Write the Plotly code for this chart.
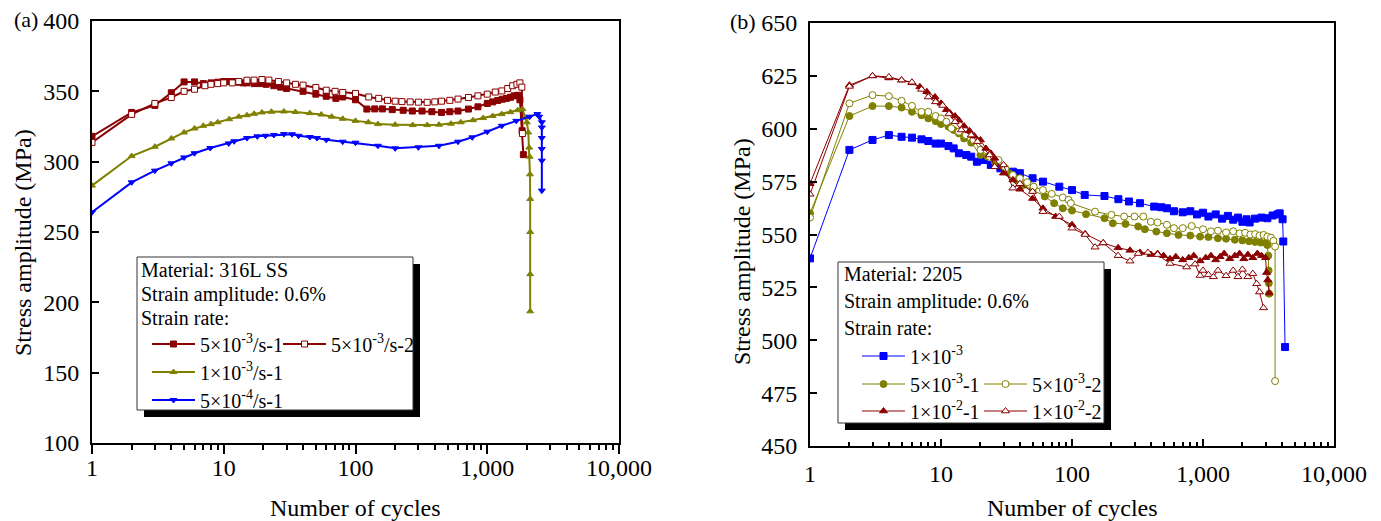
import plotly.graph_objects as go

W, H = 1381, 521

# ---------------- Panel (a): 316L SS ----------------
a1_N = [1, 2, 3, 4, 5, 6, 7, 8, 9, 10, 11, 12, 13, 14, 15, 17, 19, 21, 24, 27, 30, 40, 50, 60, 71, 80, 100,
        122, 140, 160, 190, 230, 270, 320, 380, 450, 520, 600, 720, 850, 1000, 1100, 1200, 1300, 1400, 1500,
        1600, 1700, 1770, 1840, 1880]
a1_S = [318, 335, 340, 349, 356.7, 356.7, 355.5, 356, 356.5, 357, 357, 357, 356.5, 356, 356, 355.5, 355.5, 355,
        354, 353, 352, 350, 348, 346.5, 345, 346, 344, 337.4, 337.5, 337.5, 337, 336.5, 336, 336, 335.5, 335,
        335.5, 336, 337.4, 339, 341.4, 342.5, 343.5, 344.4, 345, 345.8, 346.8, 347.2, 344, 322, 305]

a2_N = [1, 2, 3, 4, 5, 6, 7.2, 8, 9, 10, 11.6, 13, 15, 17, 19.5, 22, 26, 30, 35, 40, 50, 60, 70, 80, 100, 126,
        150, 175, 200, 225, 260, 300, 350, 400, 450, 520, 600, 720, 850, 1000, 1150, 1290, 1430, 1560, 1680,
        1770, 1830, 1850]
a2_S = [313.7, 333.6, 341.4, 345.6, 350, 351.5, 354, 355, 355.5, 356, 356, 357, 357.9, 358, 358.4, 358, 357,
        356, 355, 354.4, 352.7, 350.8, 350, 349.2, 348.5, 346, 345, 343.6, 343, 342.7, 342.5, 342.3, 342.2,
        342.5, 343, 343.6, 344.5, 345.6, 346.8, 348, 349.5, 350.3, 352, 354, 355, 356, 353, 320]

a3_N = [1, 2, 3, 4, 5, 6, 7, 8, 9, 11, 13, 15, 17, 19.5, 23, 28.6, 35, 45, 55, 66, 80, 100, 125, 148, 200, 272,
        350, 430, 530, 630, 780, 930, 1100, 1290, 1500, 1700, 1850, 1940, 2000, 2050, 2080, 2100, 2110, 2118,
        2118, 2118, 2118]
a3_S = [283, 304, 310.6, 316.5, 320.8, 323.6, 325.5, 326.7, 328, 330.2, 332, 333, 334, 335, 335.5, 335.7, 335.3,
        334.5, 333.5, 332, 330.5, 329, 328, 326.7, 326.3, 326, 326, 326.3, 327, 328, 329.5, 331, 332.5, 333.8,
        335.2, 336.6, 337.4, 331.4, 328, 320.8, 310, 303.5, 291, 273.5, 250, 220, 193.6]

a4_N = [1, 2, 3, 4, 5, 6, 7.9, 10.9, 12, 15, 18, 20.7, 24, 28.6, 33, 37, 45, 51, 60, 80, 100, 148, 200, 300,
        430, 600, 770, 1000, 1290, 1660, 2100, 2400, 2480, 2596, 2596, 2596, 2596, 2596, 2596]
a4_S = [264, 285.3, 293.6, 298.8, 303, 306, 309.7, 313, 314.5, 316.8, 318, 318.4, 319, 319.6, 319.5, 318.4,
        317.5, 316.8, 315.5, 314.2, 313.5, 311.3, 309.5, 310.2, 311.3, 314.2, 317.3, 321.3, 325.5, 329, 332,
        333.8, 332, 328, 324.3, 316.8, 309, 300.7, 279.4]

# ---------------- Panel (b): 2205 ----------------
b1_N = [1, 2, 3, 4, 5, 6, 7.1, 8, 9.1, 10, 11.4, 12.5, 13.7, 15.6, 17, 18.8, 21.3, 24, 28.4, 35.4, 40, 50, 60,
        80, 100, 125, 177, 226, 272, 330, 424, 480, 530, 600, 700, 800, 900, 1000, 1100, 1250, 1400, 1550,
        1700, 1850, 2000, 2150, 2270, 2500, 2800, 3100, 3400, 3700, 3850, 4050, 4100, 4230]
b1_S = [538.7, 590, 594.7, 597, 596.2, 595.8, 595, 594.2, 593, 593, 591.8, 590.7, 588.4, 587.6, 586.8, 584.4,
        585.2, 582.9, 581.3, 579.7, 579, 576.6, 575, 572.6, 571, 568.7, 568.2, 566.7, 565.6, 564.8, 563.2,
        562.9, 562.4, 561, 560.5, 561, 559.5, 560.3, 558.5, 559.5, 557.5, 558.8, 557, 558, 556, 557.2, 555.7,
        557.5, 558, 557.7, 559, 559.5, 560, 557.2, 546.7, 496.8]

b2_N = [1, 2, 3, 4, 5, 6, 7.1, 8, 9.1, 10, 11.4, 12.5, 13.7, 15, 17, 20, 22.7, 25.7, 30, 33, 37.6, 42.6, 50, 62,
        73, 85, 100, 128, 177, 205, 256, 320, 360, 440, 530, 650, 800, 950, 1100, 1300, 1500, 1750, 2000, 2250,
        2500, 2750, 3000, 3100, 3150, 3170, 3180, 3200]
b2_S = [560, 606, 610.7, 610.7, 610, 608, 606.4, 604.9, 603.6, 602.2, 601, 599.4, 597.8, 595.4, 593.4, 587.6,
        586.8, 584.4, 582, 579, 575.8, 573.4, 571, 568, 564.8, 562.4, 561.3, 559.6, 557.7, 555.3, 555, 553.8,
        552.5, 551.4, 550.6, 549.8, 549.5, 549, 548.8, 548.2, 548, 547.5, 547.2, 546.8, 546.5, 546.2, 546, 545,
        540, 533, 527, 522]

b3_N = [1, 2, 3, 4, 5, 6, 7.1, 8, 9.1, 10, 11, 12, 13.7, 15.5, 17.7, 20, 23.5, 27.5, 31, 35.4, 40, 45.5, 51, 60,
        70, 85, 94, 98, 150, 200, 250, 300, 350, 400, 450, 530, 600, 700, 820, 1000, 1150, 1300, 1500, 1700,
        1900, 2100, 2300, 2500, 2700, 2900, 3100, 3300, 3450, 3550, 3550]
b3_S = [558, 612, 615.9, 615.4, 613.2, 610.8, 608, 608, 606, 604.9, 603.3, 600.2, 598.6, 597, 594.7, 590, 586.8,
        585.2, 581.3, 578.1, 576.6, 574.7, 572.6, 571, 569.2, 567.5, 566.4, 564.8, 560.8, 559.3, 558.5, 558.5,
        558.5, 556, 555.7, 554.6, 553, 553, 554, 552.5, 551.5, 551.8, 551, 551.5, 550.5, 550.8, 550, 550.2,
        549.5, 549.8, 549, 548.5, 547, 544.3, 480.7]

b4_N = [1, 2, 3, 4, 5, 6, 6.9, 7.8, 9, 10, 11, 11.7, 12.8, 13.7, 15, 16.5, 18, 20, 22, 24, 25.7, 30, 35.4, 40,
        50, 60, 75, 100, 126, 173, 225, 277, 330, 400, 450, 500, 560, 620, 700, 780, 850, 950, 1050, 1150, 1250,
        1350, 1450, 1600, 1750, 1900, 2050, 2200, 2400, 2600, 2800, 3000, 3060, 3120, 3200]
b4_S = [574, 620.6, 625, 624, 623, 621.7, 619.8, 617.5, 615, 612, 609, 607.5, 606, 604, 601.3, 599, 596.5, 594.7,
        590.7, 588.4, 586, 579, 575.8, 571.4, 567, 562.4, 558.5, 554.6, 550.3, 546, 543.7, 542.5, 541.5, 540.5,
        541, 540, 538.5, 539.5, 538, 539, 540, 537.5, 539, 540, 538, 539.5, 541, 538.5, 540, 541, 538.5, 540.5,
        539, 541, 540, 539, 532, 528.5, 522.3]

b5_N = [1, 2, 3, 4, 5, 6, 7.1, 8, 9.1, 10.3, 11.5, 12.8, 14.3, 17, 19, 23.5, 25.7, 30, 35.4, 40, 50, 60, 80, 100,
        126, 150, 173, 225, 277, 320, 380, 450, 560, 750, 870, 950, 1000, 1100, 1200, 1300, 1500, 1700, 1850,
        2000, 2200, 2400, 2570, 2700, 2900]
b5_S = [569, 620, 625, 624.5, 623, 622, 618.6, 615, 612.7, 611, 607, 603.3, 599.4, 597, 593.9, 587.6, 582, 582.9,
        571.9, 574, 570.3, 560.8, 558.5, 553, 550, 544, 546, 540, 537.4, 541, 541.5, 540.5, 536.3, 534.6, 536,
        530.6, 533, 531, 530, 533, 530.5, 533, 530, 533.5, 530, 531.5, 526.7, 522.8, 515.3]

x_tickvals = [1, 10, 100, 1000, 10000]
x_ticktext = ["1", "10", "100", "1,000", "10,000"]
a_yticks = [100, 150, 200, 250, 300, 350, 400]
b_yticks = [450, 475, 500, 525, 550, 575, 600, 625, 650]

a_names = ["5×10<sup>-3</sup>/s-1", "5×10<sup>-3</sup>/s-2", "1×10<sup>-3</sup>/s-1", "5×10<sup>-4</sup>/s-1"]
b_names = ["1×10<sup>-3</sup>", "5×10<sup>-3</sup>-1", "5×10<sup>-3</sup>-2", "1×10<sup>-2</sup>-1",
           "1×10<sup>-2</sup>-2"]

WINE = "#8B0000"
OLIVE = "#808000"
BLUE = "#0000FF"
FONT = "Liberation Serif"

fig = go.Figure()


def px_x(p):
    return p / W


def px_y(p):
    return 1 - p / H


a_series = [
    (a1_N, a1_S, WINE, "square", WINE, "legend10"),
    (a2_N, a2_S, WINE, "square", "white", "legend2"),
    (a3_N, a3_S, OLIVE, "triangle-up", OLIVE, "legend3"),
    (a4_N, a4_S, BLUE, "triangle-down", BLUE, "legend4"),
]
for (xs, ys, col, sym, fill, lg), nm in zip(a_series, a_names):
    fig.add_trace(go.Scatter(
        x=xs, y=ys, name=nm, mode="lines+markers", xaxis="x", yaxis="y", legend=lg,
        line=dict(color=col, width=2),
        marker=dict(symbol=sym, size=6, color=fill, line=dict(color=col, width=1)),
    ))

b_series = [
    (b1_N, b1_S, BLUE, "square", BLUE, "legend5"),
    (b2_N, b2_S, OLIVE, "circle", OLIVE, "legend6"),
    (b3_N, b3_S, OLIVE, "circle", "white", "legend7"),
    (b4_N, b4_S, WINE, "triangle-up", WINE, "legend8"),
    (b5_N, b5_S, WINE, "triangle-up", "white", "legend9"),
]
for (xs, ys, col, sym, fill, lg), nm in zip(b_series, b_names):
    fig.add_trace(go.Scatter(
        x=xs, y=ys, name=nm, mode="lines+markers", xaxis="x2", yaxis="y2", legend=lg,
        line=dict(color=col, width=1),
        marker=dict(symbol=sym, size=7, color=fill, line=dict(color=col, width=1)),
    ))

axis_common = dict(showgrid=False, zeroline=False, showline=True, linecolor="black", linewidth=2,
                   mirror=True, tickcolor="black", tickwidth=1.5, automargin=False,
                   tickfont=dict(family=FONT, size=24, color="black"))

xa = dict(axis_common, type="log", range=[0, 4], tickmode="array", tickvals=x_tickvals, ticktext=x_ticktext)

fig.update_layout(
    width=W, height=H,
    margin=dict(l=0, r=0, t=0, b=0, autoexpand=False),
    paper_bgcolor="white", plot_bgcolor="white",
    font=dict(family=FONT, color="black"),
    xaxis=dict(xa, domain=[px_x(92), px_x(619)], anchor="y", ticks="outside", ticklen=9,
               ticklabelstandoff=-7,
               minor=dict(tickmode="linear", dtick="D1", ticks="outside", ticklen=5, tickcolor="black",
                          tickwidth=1.5)),
    yaxis=dict(axis_common, domain=[px_y(443), px_y(21)], anchor="x", range=[100, 400], tickmode="array",
               tickvals=a_yticks, ticks="inside", ticklen=7, ticklabelstandoff=6),
    xaxis2=dict(xa, domain=[px_x(810), px_x(1334)], anchor="y2", ticks="inside", ticklen=7,
                ticklabelstandoff=5,
                minor=dict(tickmode="linear", dtick="D1", ticks="inside", ticklen=4, tickcolor="black",
                           tickwidth=1.5)),
    yaxis2=dict(axis_common, domain=[px_y(446), px_y(23)], anchor="x2", range=[450, 650], tickmode="array",
                tickvals=b_yticks, ticks="inside", ticklen=7, ticklabelstandoff=6),
)

leg_font = dict(family=FONT, size=20, color="black")
leg_pos = {
    "legend10": (147, 344), "legend2": (278, 344), "legend3": (147, 372), "legend4": (147, 400),
    "legend5": (857, 356), "legend6": (857, 384), "legend7": (979, 384), "legend8": (857, 411),
    "legend9": (979, 411),
}
for key, (lx, ly) in leg_pos.items():
    fig.update_layout({key: dict(x=px_x(lx), y=px_y(ly - 19.5), xanchor="left", yanchor="top",
                                 xref="paper", yref="paper", bgcolor="rgba(0,0,0,0)", borderwidth=0,
                                 font=leg_font, itemwidth=43, orientation="v")})

shapes = []
for (x0, y0, x1, y1) in [(137, 257, 413, 410), (838, 262, 1104, 423)]:
    shapes.append(dict(type="rect", xref="paper", yref="paper", x0=px_x(x0 + 7), x1=px_x(x1 + 7),
                       y0=px_y(y0 + 7), y1=px_y(y1 + 7), fillcolor="black", line=dict(width=0), layer="above"))
    shapes.append(dict(type="rect", xref="paper", yref="paper", x0=px_x(x0), x1=px_x(x1),
                       y0=px_y(y0), y1=px_y(y1), fillcolor="white", line=dict(color="#333333", width=1),
                       layer="above"))
fig.update_layout(shapes=shapes)

annotations = []
for txt, x, y in [("Material: 316L SS", 139, 270), ("Strain amplitude: 0.6%", 139, 294), ("Strain rate:", 139, 318),
                  ("Material: 2205", 842, 274), ("Strain amplitude: 0.6%", 842, 301), ("Strain rate:", 842, 328)]:
    annotations.append(dict(text=txt, x=px_x(x), y=px_y(y), xref="paper", yref="paper", xanchor="left",
                            yanchor="middle", showarrow=False, font=dict(family=FONT, size=20, color="black")))
for txt, x, y in [("(a)", 12, 20), ("(b)", 728, 22)]:
    annotations.append(dict(text=txt, x=px_x(x), y=px_y(y), xref="paper", yref="paper", xanchor="left",
                            yanchor="middle", showarrow=False, font=dict(family=FONT, size=22, color="black")))
title_font = dict(family=FONT, size=24, color="black")
for x, y in [(355, 508), (1072, 508)]:
    annotations.append(dict(text="Number of cycles", x=px_x(x), y=px_y(y), xref="paper", yref="paper",
                            xanchor="center", yanchor="middle", showarrow=False, font=title_font))
for x, y in [(23, 243), (742, 252)]:
    annotations.append(dict(text="Stress amplitude (MPa)", x=px_x(x), y=px_y(y), xref="paper", yref="paper",
                            xanchor="center", yanchor="middle", textangle=-90, showarrow=False, font=title_font))
fig.update_layout(annotations=annotations)

fig.write_html("out.html", config={"displayModeBar": False},
               post_script="document.body.style.margin='0';document.body.style.overflow='hidden';")
